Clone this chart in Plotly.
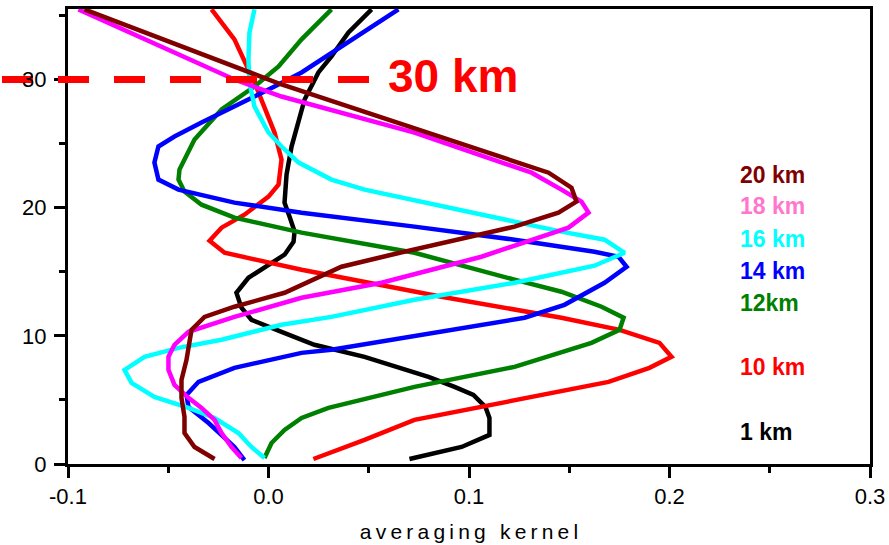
import plotly.graph_objects as go

# ---------------- data (averaging kernel vs altitude) ----------------
alt_1km = [0.39, 1.33, 2.27, 3.59, 4.45, 5.39, 6.02, 6.80, 8.36, 9.30, 10.31, 11.25, 12.19,
           13.36, 14.53, 15.31, 16.33, 17.34, 18.13, 19.30, 20.39, 22.58, 24.77, 28.44,
           30.55, 31.80, 33.67, 35.47]
ak_1km = [0.0703, 0.0963, 0.1102, 0.1102, 0.1082, 0.1022, 0.0928, 0.0798, 0.0479, 0.0229,
          0.0065, -0.0085, -0.0135, -0.0160, -0.0100, -0.0020, 0.0080, 0.0125, 0.0130,
          0.0105, 0.0080, 0.0090, 0.0115, 0.0180, 0.0249, 0.0314, 0.0399, 0.0514]

alt_10km = [0.39, 1.88, 3.44, 4.45, 5.63, 6.41, 7.50, 8.36, 9.45, 10.47, 11.41, 13.05, 15.16,
            16.48, 17.42, 18.44, 19.45, 20.86, 21.80, 23.75, 25.86, 29.77, 33.13, 35.47]
ak_10km = [0.0224, 0.0479, 0.0728, 0.1062, 0.1461, 0.1696, 0.1900, 0.2010, 0.1950, 0.1751,
           0.1461, 0.0863, 0.0165, -0.0219, -0.0294, -0.0234, -0.0120, 0.0000, 0.0050,
           0.0065, 0.0030, -0.0070, -0.0170, -0.0284]

alt_12km = [0.47, 1.64, 2.66, 3.59, 4.38, 6.02, 7.58, 9.45, 10.47, 11.41, 12.27, 13.44, 14.38,
            16.48, 18.05, 19.22, 20.23, 21.25, 22.19, 22.97, 25.31, 27.66, 29.45, 31.02,
            33.13, 35.47]
ak_12km = [-0.0020, 0.0015, 0.0080, 0.0165, 0.0299, 0.0728, 0.1227, 0.1611, 0.1751, 0.1771,
           0.1661, 0.1461, 0.1227, 0.0728, 0.0165, -0.0170, -0.0334, -0.0419, -0.0449,
           -0.0444, -0.0369, -0.0234, -0.0070, 0.0050, 0.0165, 0.0314]

alt_14km = [0.31, 1.33, 3.20, 4.45, 5.39, 6.41, 7.50, 8.67, 8.91, 10.47, 11.41, 12.42, 14.14,
            15.39, 16.17, 16.56, 17.50, 18.52, 19.61, 20.39, 21.41, 22.19, 23.52, 24.77,
            25.55, 26.64, 27.89, 28.67, 29.45, 30.55, 35.47]
ak_14km = [-0.0120, -0.0170, -0.0299, -0.0399, -0.0409, -0.0349, -0.0170, 0.0165, 0.0314,
           0.0898, 0.1277, 0.1476, 0.1676, 0.1786, 0.1746, 0.1626, 0.1227, 0.0728, 0.0165,
           -0.0170, -0.0449, -0.0549, -0.0569, -0.0549, -0.0469, -0.0334, -0.0170, -0.0070,
           0.0030, 0.0165, 0.0648]

alt_16km = [0.47, 1.33, 2.42, 3.59, 4.38, 5.23, 6.33, 7.34, 8.36, 9.06, 9.69, 10.86, 11.48,
            12.81, 14.14, 15.47, 16.48, 17.50, 18.13, 18.91, 20.63, 21.41, 22.19, 23.52,
            24.77, 25.86, 27.89, 29.77, 31.56, 33.67, 35.47]
ak_16km = [-0.0020, -0.0085, -0.0150, -0.0269, -0.0399, -0.0569, -0.0683, -0.0718, -0.0618,
           -0.0449, -0.0234, 0.0065, 0.0314, 0.0728, 0.1227, 0.1626, 0.1776, 0.1676, 0.1461,
           0.1227, 0.0728, 0.0479, 0.0314, 0.0150, 0.0065, 0.0000, -0.0070, -0.0095,
           -0.0100, -0.0095, -0.0070]

alt_18km = [0.47, 1.33, 2.42, 3.44, 4.38, 5.16, 6.17, 7.34, 8.36, 9.30, 10.31, 11.48, 12.97,
            14.14, 16.17, 18.44, 19.61, 20.47, 21.41, 22.73, 25.86, 28.67, 30.00, 35.47]
ak_18km = [-0.0135, -0.0185, -0.0234, -0.0269, -0.0334, -0.0399, -0.0469, -0.0499, -0.0499,
           -0.0469, -0.0399, -0.0170, 0.0165, 0.0564, 0.1062, 0.1496, 0.1596, 0.1561,
           0.1461, 0.1312, 0.0728, 0.0065, -0.0170, -0.0948]

alt_20km = [0.39, 1.33, 2.42, 3.67, 5.16, 6.56, 8.13, 9.45, 10.47, 11.48, 12.27, 13.36, 15.39,
            16.33, 17.66, 18.52, 19.61, 20.47, 21.56, 22.73, 29.61, 35.47]
ak_20km = [-0.0269, -0.0369, -0.0419, -0.0419, -0.0434, -0.0434, -0.0409, -0.0394, -0.0384,
           -0.0319, -0.0170, 0.0080, 0.0364, 0.0613, 0.0978, 0.1227, 0.1446, 0.1536, 0.1511,
           0.1397, 0.0065, -0.0918]

series_names = ["1 km", "10 km", "12km", "14 km", "16 km", "18 km", "20 km"]
series_x = [ak_1km, ak_10km, ak_12km, ak_14km, ak_16km, ak_18km, ak_20km]
series_y = [alt_1km, alt_10km, alt_12km, alt_14km, alt_16km, alt_18km, alt_20km]
line_colors = ["#000000", "#FF0000", "#008000", "#0000FF", "#00FFFF", "#FF00FF", "#800000"]
label_colors = ["#000000", "#FF0000", "#008000", "#0000FF", "#00FFFF", "#FF77CC", "#800000"]
label_y = [2.5, 7.6, 12.55, 15.05, 17.55, 20.1, 22.55]

x_ticks = [-0.1, 0.0, 0.1, 0.2, 0.3]
x_tick_labels = ["-0.1", "0.0", "0.1", "0.2", "0.3"]
y_ticks = [0, 10, 20, 30]
y_tick_labels = ["0", "10", "20", "30"]
marker_altitude = 30
marker_text = "30 km"
x_title = "averaging kernel"

X_RANGE = [-0.1, 0.3]
Y_RANGE = [0, 35.5]

FONT = "Arial, 'Liberation Sans', sans-serif"

fig = go.Figure()
for xs, ys, name, col in zip(series_x, series_y, series_names, line_colors):
    fig.add_trace(go.Scatter(x=xs, y=ys, mode="lines", name=name,
                             line=dict(color=col, width=4.5), showlegend=False,
                             hoverinfo="skip"))

# right-hand labels
for name, col, yv in zip(series_names, label_colors, label_y):
    fig.add_annotation(text=name, xref="paper", yref="y", x=0.8354, y=yv,
                       xanchor="left", yanchor="middle", showarrow=False,
                       font=dict(family=FONT, size=23, color=col, weight="bold"))

# dashed 30 km marker line (part outside plot drawn below tick labels)
yp = marker_altitude / Y_RANGE[1]
fig.add_shape(type="line", xref="paper", yref="paper", x0=-0.0823, x1=-0.0436,
              y0=yp, y1=yp, layer="below", line=dict(color="#FF0000", width=7))
fig.add_shape(type="line", xref="paper", yref="paper", x0=-0.01247, x1=0.3766,
              y0=yp, y1=yp, layer="above",
              line=dict(color="#FF0000", width=7, dash="31px,25px"))
fig.add_annotation(text=marker_text, xref="paper", yref="y", x=0.397, y=marker_altitude,
                   xanchor="left", yanchor="middle", yshift=3, showarrow=False,
                   font=dict(family=FONT, size=46, color="#FF0000", weight="bold"))

axis_common = dict(showline=True, linecolor="black", linewidth=3, mirror=True,
                   ticks="outside", tickcolor="black", tickwidth=2.5, ticklen=11,
                   showgrid=False, zeroline=False, automargin=False,
                   tickfont=dict(family=FONT, size=22, color="black"))

fig.update_xaxes(range=X_RANGE, tickvals=x_ticks, ticktext=x_tick_labels,
                 minor=dict(ticks="outside", tickvals=[-0.05, 0.05, 0.15, 0.25],
                            ticklen=6, tickwidth=2.5, tickcolor="black"),
                 title=dict(text="\u2009".join(list(x_title)),
                            font=dict(family=FONT, size=21, color="black"), standoff=16),
                 **axis_common)
fig.update_yaxes(range=Y_RANGE, tickvals=y_ticks, ticktext=y_tick_labels,
                 minor=dict(ticks="outside", tickvals=[5, 15, 25, 35],
                            ticklen=6, tickwidth=2.5, tickcolor="black"),
                 ticklabelstandoff=3,
                 **axis_common)

fig.update_layout(width=889, height=545, margin=dict(l=68, r=19, t=9, b=81),
                  plot_bgcolor="white", paper_bgcolor="white",
                  font=dict(family=FONT, color="black"))

fig.write_html("out.html")
